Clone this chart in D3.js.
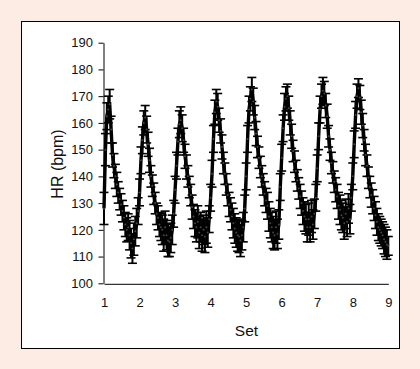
<!DOCTYPE html>
<html>
<head>
<meta charset="utf-8">
<script src="https://cdn.jsdelivr.net/npm/d3@7"></script>
<style>
  html, body { margin: 0; padding: 0; background: #fdece3; }
  svg { display: block; }
  text { font-family: "Liberation Sans", Arial, sans-serif; }
</style>
</head>
<body>
<svg id="chart" width="420" height="369"></svg>
<script>
// ---- data ----
const setLabels = [1, 2, 3, 4, 5, 6, 7, 8, 9];
const yTicks = [100, 110, 120, 130, 140, 150, 160, 170, 180, 190];
const sampleStep = 0.04; // set units between consecutive samples

const hrSet1 = [128, 150, 162.5, 165, 167, 157.5, 148, 144, 140, 137, 134, 131.5, 129.5, 127, 124.5, 122, 120, 121, 118, 115, 113, 116.5, 119.5, 122.5, 127];
const hrSet2 = [134, 146, 153.5, 160, 162, 157.5, 152, 146, 140, 136.5, 133.5, 130, 126, 124.5, 122, 121, 120, 118, 121, 118, 116, 115.5, 117, 120, 126];
const hrSet3 = [135, 144, 153, 159.5, 161, 158, 153.5, 147.5, 143.5, 140, 136, 133, 128.5, 125, 122.5, 121, 123, 119, 121, 118, 120, 117.5, 121, 119, 124];
const hrSet4 = [132, 141, 154, 164, 168, 166, 161, 157, 151, 145, 141, 137, 133, 129.5, 127.5, 125, 122.5, 120.5, 119, 118, 117.5, 116, 118, 121, 128];
const hrSet5 = [140, 154, 165, 169, 172.5, 168, 162, 156, 151, 147, 143.5, 140, 137, 133.5, 131, 129, 125, 122.5, 121, 119, 118, 121, 118.5, 122, 136];
const hrSet6 = [147, 158, 166, 169, 170, 165.5, 160, 155, 149.5, 145.5, 142, 138.5, 135.5, 132.5, 130, 127, 125, 124, 121, 124, 121, 125, 122, 126, 132];
const hrSet7 = [143, 155, 165, 170, 172, 171, 166.5, 162.5, 155, 150, 145, 141.5, 138, 135, 132.5, 129, 127.5, 125.5, 124.5, 122.5, 126, 123, 128, 124, 132];
const hrSet8 = [140, 152, 163, 170, 173, 169.5, 164, 159, 153.5, 148, 144, 139.5, 136, 133, 130.5, 128, 125.5, 123, 121, 120, 119, 118, 116.5, 115.5, 114.5, 114];

const sdSet1 = [6, 6, 5, 5, 5.5, 5, 4.5, 4.5, 4.5, 4.5, 4, 4, 4, 4, 4.5, 4.5, 4.5, 5, 5.5, 5.5, 5.5, 6, 5.5, 5.5, 5];
const sdSet2 = [5, 5, 5, 4.5, 4.5, 5, 4.5, 4.5, 4, 4, 4, 4, 4, 4.5, 4.5, 5, 5.5, 6, 6, 5.5, 6, 5.5, 5.5, 5.5, 5];
const sdSet3 = [5, 5, 5, 5, 5, 5, 4.5, 4.5, 4.5, 4, 4, 4, 4.5, 4.5, 5, 5.5, 6, 6, 5.5, 6, 5.5, 6, 6, 5.5, 5];
const sdSet4 = [5, 5, 5, 4.5, 4.5, 5, 4.5, 4.5, 4.5, 4, 4, 4, 4, 4.5, 4.5, 5, 5.5, 5.5, 5.5, 6, 6, 6, 5.5, 5.5, 5];
const sdSet5 = [5, 5, 5, 4.5, 4.5, 5, 4.5, 4.5, 4, 4, 4, 4, 4, 4.5, 4.5, 5, 5.5, 5.5, 5.5, 6, 5.5, 6, 5.5, 5.5, 5];
const sdSet6 = [5, 5, 5, 4.5, 4.5, 4.5, 4.5, 4.5, 4, 4, 4, 4, 4, 4.5, 4.5, 5, 5.5, 5.5, 5.5, 6, 5.5, 6, 5.5, 5.5, 5];
const sdSet7 = [5, 5, 5, 4.5, 5, 4.5, 4.5, 4.5, 4, 4, 4, 4, 4, 4.5, 4.5, 5, 5.5, 5.5, 5.5, 6, 5.5, 5.5, 5.5, 5.5, 5];
const sdSet8 = [5, 5, 5, 4.5, 3.5, 4.5, 4.5, 4.5, 4, 4, 4, 4, 4, 4.5, 4.5, 4.5, 5, 5, 5, 5, 5, 5, 5.5, 5.5, 5.5, 3.5];

const hrBySet = [hrSet1, hrSet2, hrSet3, hrSet4, hrSet5, hrSet6, hrSet7, hrSet8];
const sdBySet = [sdSet1, sdSet2, sdSet3, sdSet4, sdSet5, sdSet6, sdSet7, sdSet8];

const samples = [];
hrBySet.forEach((arr, k) => {
  arr.forEach((hr, i) => {
    samples.push({ t: (k + 1) + i * sampleStep, hr: hr, sd: sdBySet[k][i] });
  });
});

// ---- drawing ----
const svg = d3.select("#chart");

svg.append("rect").attr("x", 0).attr("y", 0).attr("width", 420).attr("height", 369).attr("fill", "#fdece3");
svg.append("rect").attr("x", 21.5).attr("y", 21.5).attr("width", 378).attr("height", 327)
  .attr("fill", "#ffffff").attr("stroke", "#000").attr("stroke-width", 1);

const x = d3.scaleLinear().domain([1, 9]).range([104, 388.3]);
const y = d3.scaleLinear().domain([100, 190]).range([283.3, 42.7]);

const yAxis = d3.axisLeft(y).tickValues(yTicks).tickSize(5).tickPadding(5.5).tickSizeOuter(0);
const gy = svg.append("g").attr("transform", "translate(103.5,0)").call(yAxis);
gy.select(".domain").attr("stroke", "#000");
gy.selectAll(".tick line").attr("stroke", "#000");
gy.selectAll("text").attr("font-size", 13).attr("fill", "#111")
  .attr("font-family", "Liberation Sans, Arial, sans-serif");

const xAxis = d3.axisBottom(x).tickValues(setLabels).tickSize(0).tickPadding(14).tickSizeOuter(0);
const gx = svg.append("g").attr("transform", "translate(0,283.8)").call(xAxis);
gx.select(".domain").attr("stroke", "#000");
gx.selectAll("text").attr("font-size", 13).attr("fill", "#111")
  .attr("font-family", "Liberation Sans, Arial, sans-serif");

svg.append("text").attr("x", 246.5).attr("y", 335.5).attr("text-anchor", "middle")
  .attr("font-size", 15.5).attr("fill", "#111").text("Set");
svg.append("text").attr("transform", "translate(63,164) rotate(-90)").attr("text-anchor", "middle")
  .attr("font-size", 16).attr("fill", "#111").text("HR (bpm)");

// error bars
const eb = svg.append("g").attr("class", "errorbars");
const capW = 4.5;
samples.forEach(d => {
  const cx = x(d.t);
  const yTop = y(d.hr + d.sd), yBot = y(d.hr - d.sd);
  eb.append("line").attr("x1", cx).attr("x2", cx).attr("y1", yTop).attr("y2", yBot)
    .attr("stroke", "#000").attr("stroke-width", 2);
  eb.append("line").attr("x1", cx - capW).attr("x2", cx + capW).attr("y1", yTop).attr("y2", yTop)
    .attr("stroke", "#000").attr("stroke-width", 1.6);
  eb.append("line").attr("x1", cx - capW).attr("x2", cx + capW).attr("y1", yBot).attr("y2", yBot)
    .attr("stroke", "#000").attr("stroke-width", 1.6);
});

// series line
const line = d3.line().x(d => x(d.t)).y(d => y(d.hr));
svg.append("path").datum(samples).attr("d", line)
  .attr("fill", "none").attr("stroke", "#000").attr("stroke-width", 3.4).attr("stroke-linejoin", "round");

// markers
svg.append("g").selectAll("circle").data(samples).join("circle")
  .attr("cx", d => x(d.t)).attr("cy", d => y(d.hr)).attr("r", 1).attr("fill", "#444");
</script>
</body>
</html>
